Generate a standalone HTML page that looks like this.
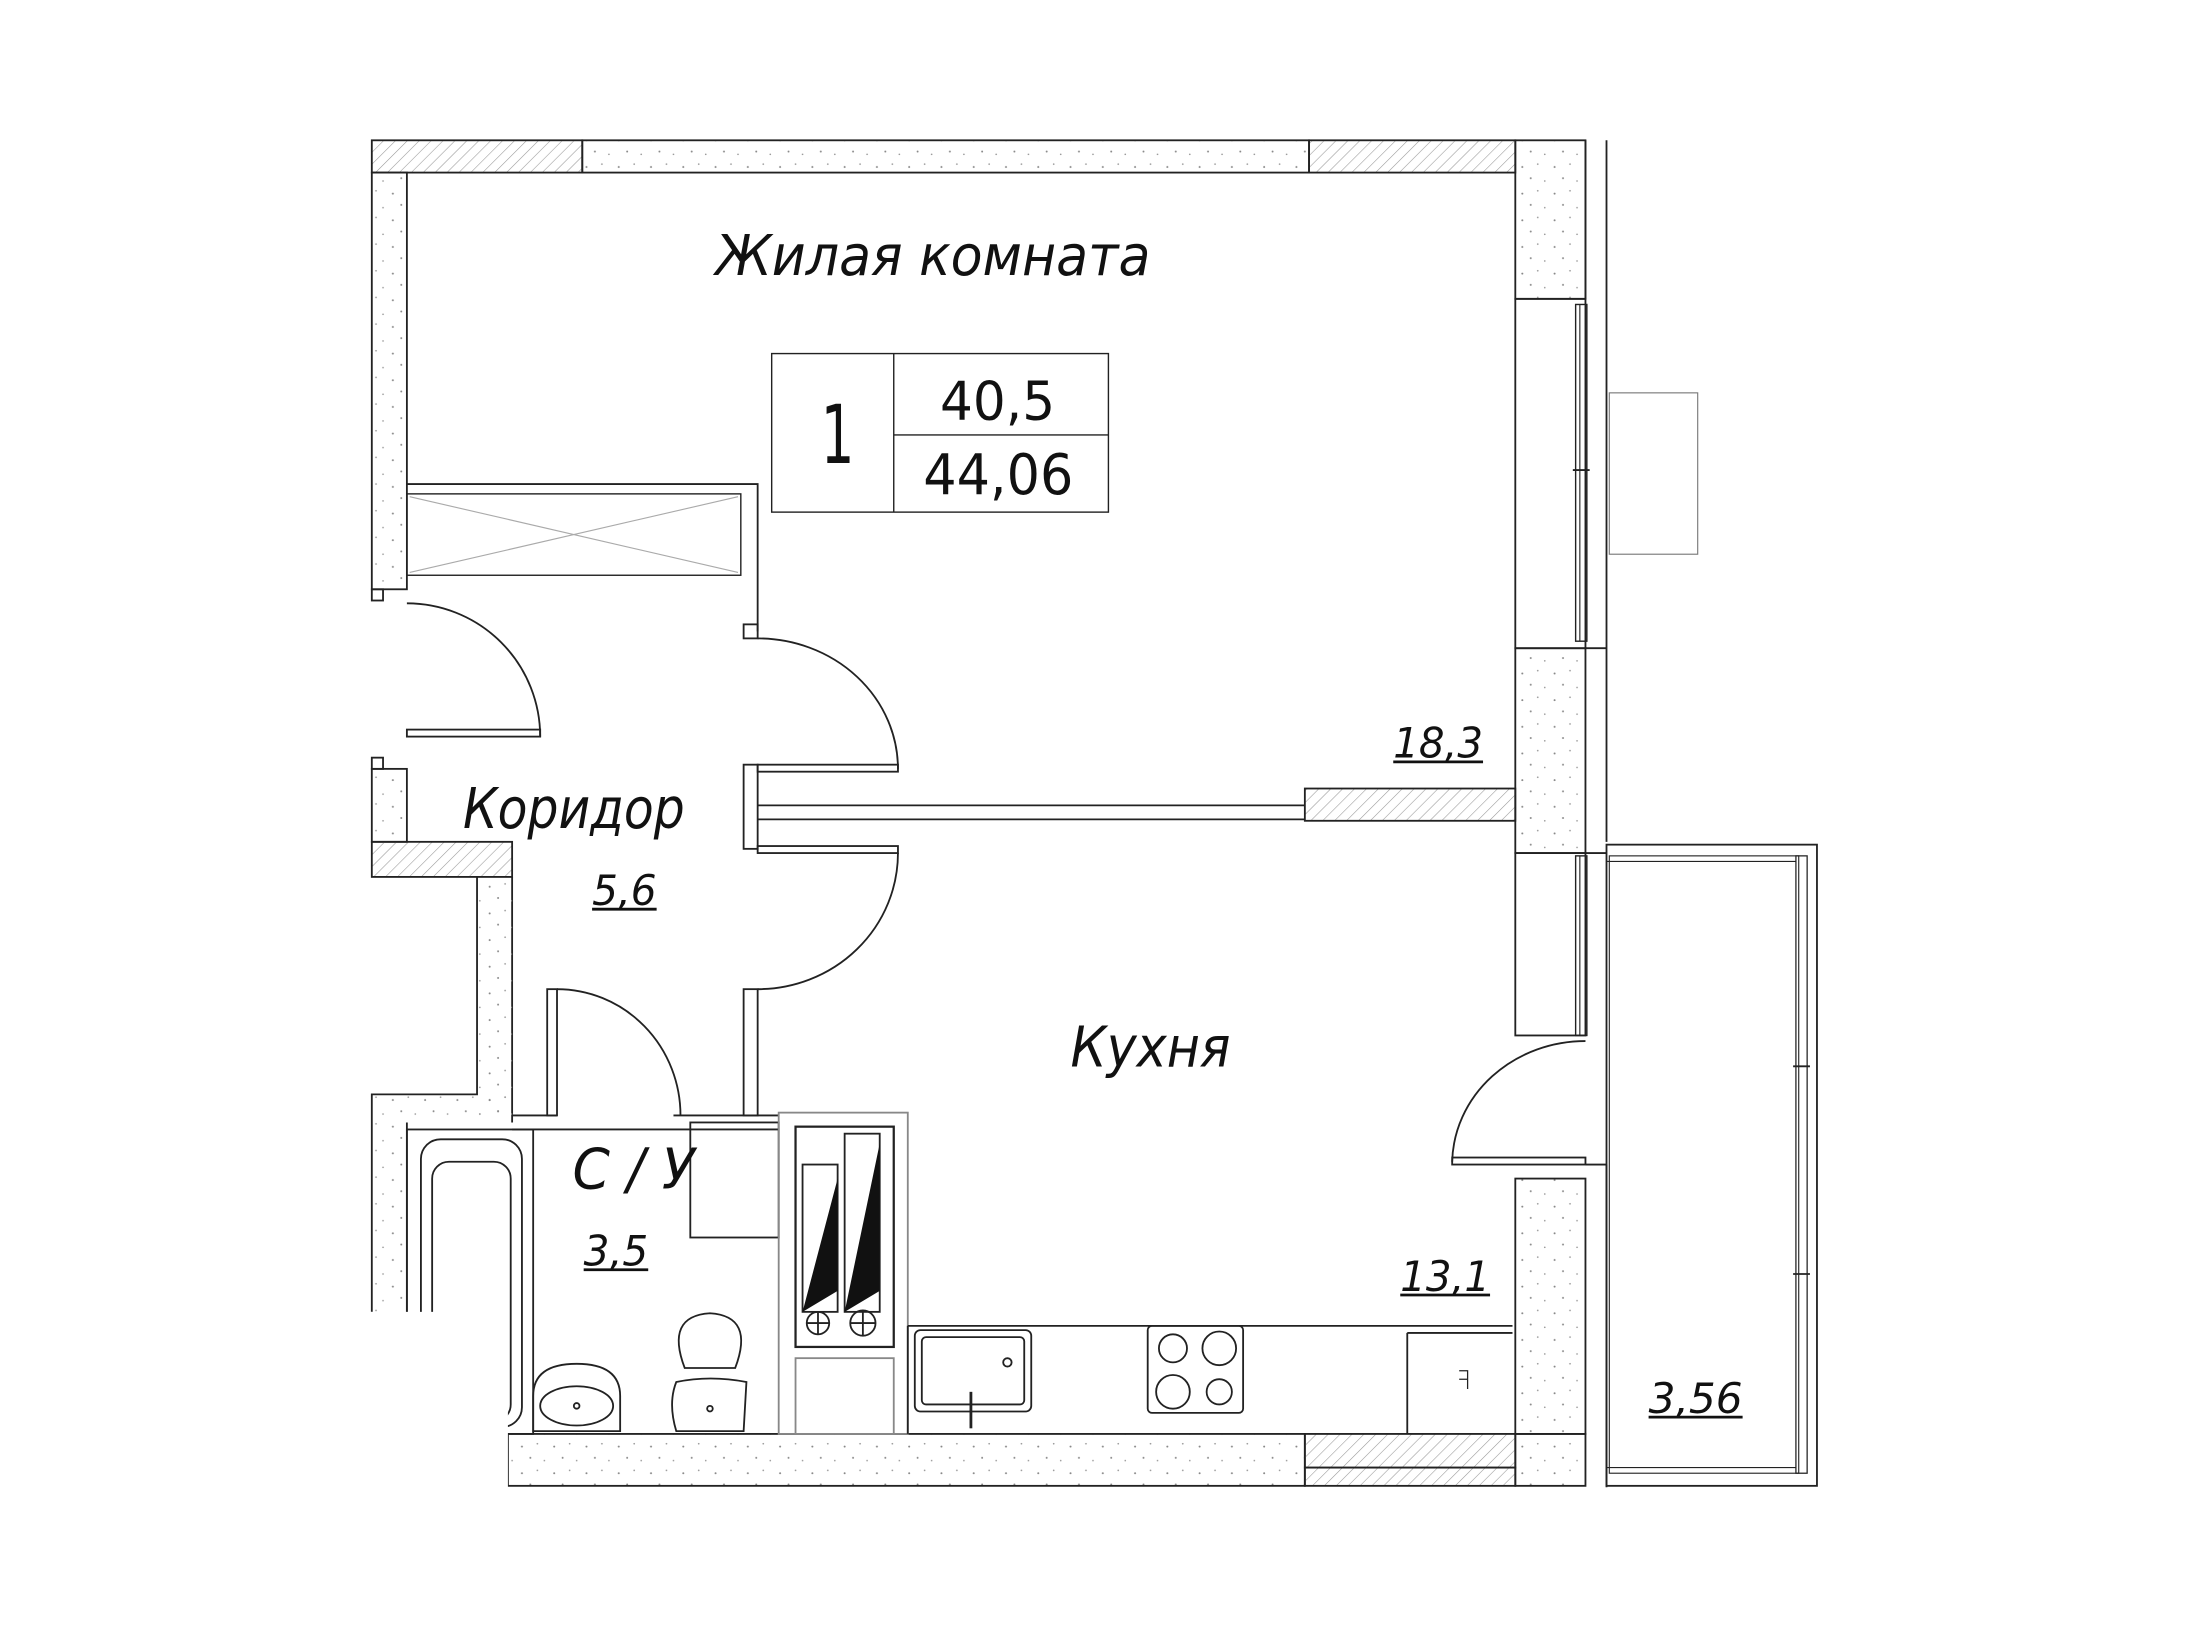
<!DOCTYPE html>
<html><head><meta charset="utf-8"><style>
html,body{margin:0;padding:0;background:#fff;}
svg{display:block}
text{font-family:"DejaVu Sans","Liberation Sans",sans-serif;font-style:italic;fill:#111}
</style></head><body>
<svg width="2200" height="1650" viewBox="0 0 1568 1176" preserveAspectRatio="none" xmlns="http://www.w3.org/2000/svg">
<defs>
<pattern id="h" width="6" height="6" patternUnits="userSpaceOnUse" patternTransform="rotate(45)">
<line x1="0" y1="0" x2="0" y2="6" stroke="#999" stroke-width="0.8"/></pattern>
<pattern id="s" width="23" height="19" patternUnits="userSpaceOnUse">
<circle cx="4" cy="5" r="0.7" fill="#888"/><circle cx="15" cy="3" r="0.6" fill="#999"/><circle cx="10" cy="13" r="0.7" fill="#888"/><circle cx="20" cy="15" r="0.6" fill="#999"/></pattern>
</defs>
<g stroke="#222" stroke-width="1.3" fill="none">
<rect x="265" y="100" width="150" height="23" fill="url(#h)"/>
<rect x="415" y="100" width="518" height="23" fill="url(#s)"/>
<rect x="933" y="100" width="147" height="23" fill="url(#h)"/>
<rect x="1080" y="100" width="50" height="113" fill="url(#s)"/>
<line x1="1145" y1="100" x2="1145" y2="600"/>
<line x1="1130" y1="100" x2="1130" y2="213"/>
<rect x="1080" y="213" width="50" height="249"/>
<rect x="1123" y="217" width="8" height="240" stroke-width="1"/>
<line x1="1126" y1="217" x2="1126" y2="457" stroke-width="0.8"/>
<line x1="1121" y1="335" x2="1133" y2="335"/>
<rect x="1147" y="280" width="63" height="115" stroke="#777" stroke-width="0.8"/>
<rect x="1080" y="462" width="50" height="146" fill="url(#s)"/>
<line x1="1130" y1="462" x2="1145" y2="462"/>
<rect x="1080" y="608" width="50" height="130"/>
<rect x="1123" y="610" width="8" height="128" stroke-width="1"/>
<line x1="1126" y1="610" x2="1126" y2="738" stroke-width="0.8"/>
<line x1="1130" y1="608" x2="1145" y2="608"/>
<rect x="1145" y="602" width="150" height="457"/>
<rect x="1147" y="610" width="135" height="440" stroke-width="0.8"/>
<rect x="1280" y="610" width="8" height="440" stroke-width="0.9"/>
<line x1="1145" y1="614" x2="1280" y2="614" stroke-width="0.8"/>
<line x1="1145" y1="1046" x2="1280" y2="1046" stroke-width="0.8"/>
<line x1="1278" y1="760" x2="1290" y2="760"/><line x1="1278" y1="908" x2="1290" y2="908"/>
<path d="M1130 742 A95 88 0 0 0 1035 828"/>
<rect x="1035" y="825" width="95" height="5"/>
<rect x="1080" y="840" width="50" height="182" fill="url(#s)"/>
<line x1="1130" y1="830" x2="1145" y2="830"/>
<line x1="1145" y1="830" x2="1145" y2="1060"/>
<rect x="1080" y="1022" width="50" height="37" fill="url(#s)"/>
<rect x="930" y="562" width="150" height="23" fill="url(#h)"/>
<line x1="540" y1="574" x2="930" y2="574"/>
<line x1="540" y1="584" x2="930" y2="584"/>
<rect x="362" y="1022" width="568" height="37" fill="url(#s)"/>
<rect x="930" y="1022" width="150" height="24" fill="url(#h)"/>
<rect x="930" y="1046" width="150" height="13" fill="url(#h)"/>
<rect x="265" y="123" width="25" height="297" fill="url(#s)"/>
<rect x="265" y="420" width="8" height="8"/>
<rect x="265" y="540" width="8" height="8"/>
<rect x="265" y="548" width="25" height="52" fill="url(#s)"/>
<rect x="265" y="600" width="100" height="25" fill="url(#h)"/>
<path d="M340 625 V780 H265 V935" />
<path d="M365 625 V800" />
<rect x="340" y="625" width="25" height="175" stroke="none" fill="url(#s)"/>
<rect x="265" y="780" width="100" height="20" stroke="none" fill="url(#s)"/>
<rect x="265" y="800" width="25" height="135" stroke="none" fill="url(#s)"/>
<line x1="290" y1="800" x2="290" y2="935"/>
<path d="M290 345 H540 V450"/>
<rect x="290" y="352" width="238" height="58" stroke-width="1"/>
<path d="M292 354 L526 408 M292 408 L526 354" stroke="#aaa" stroke-width="0.8"/>
<path d="M290 430 A95 95 0 0 1 385 525"/>
<rect x="290" y="520" width="95" height="5"/>
<rect x="530" y="445" width="10" height="10"/>
<path d="M540 455 A100 93 0 0 1 640 548"/>
<rect x="540" y="545" width="100" height="5"/>
<rect x="530" y="545" width="10" height="60"/>
<rect x="540" y="603" width="100" height="5"/>
<path d="M640 608 A100 97 0 0 1 540 705"/>
<rect x="530" y="705" width="10" height="90"/>
<rect x="390" y="705" width="7" height="90"/>
<path d="M397 705 A88 90 0 0 1 485 795"/>
<path d="M365 795 H397 M480 795 H555 M365 805 H555"/>
<rect x="290" y="805" width="90" height="217"/>
<rect x="300" y="812" width="72" height="205" rx="14"/>
<rect x="308" y="828" width="56" height="185" rx="12"/>
<path d="M380 1020 V995 Q380 972 411 972 Q442 972 442 995 V1020 Z"/>
<ellipse cx="411" cy="1002" rx="26" ry="14"/>
<circle cx="411" cy="1002" r="2"/>
<path d="M488 975 Q474 938 506 936 Q538 938 524 975 Z"/>
<path d="M482 985 Q506 980 532 985 L530 1020 H482 Q476 1000 482 985 Z"/>
<circle cx="506" cy="1004" r="2"/>
<rect x="492" y="800" width="63" height="82"/>
<rect x="555" y="793" width="92" height="229" stroke="#888"/>
<rect x="567" y="803" width="70" height="157" stroke-width="1.6"/>
<rect x="572" y="830" width="25" height="105"/>
<rect x="602" y="808" width="25" height="127"/>
<path d="M572 935 L597 920 L597 840 Z M602 935 L627 920 L627 815 Z" fill="#111" stroke="none"/>
<circle cx="583" cy="943" r="8"/><path d="M575 943 H591 M583 935 V951"/>
<circle cx="615" cy="943" r="9"/><path d="M606 943 H624 M615 934 V952"/>
<rect x="567" y="968" width="70" height="54" stroke="#888"/>
<path d="M647 945 H1078 M647 945 V1022"/>
<rect x="652" y="948" width="83" height="58" rx="4"/>
<rect x="657" y="953" width="73" height="48" rx="3"/>
<circle cx="718" cy="971" r="3"/>
<line x1="692" y1="992" x2="692" y2="1018" stroke-width="2"/>
<rect x="818" y="945" width="68" height="62" rx="3"/>
<circle cx="836" cy="961" r="10"/><circle cx="869" cy="961" r="12"/>
<circle cx="836" cy="992" r="12"/><circle cx="869" cy="992" r="9"/>
<path d="M1003 950 V1022"/>
<path d="M1003 950 H1078"/>
<path d="M1040 977 H1046 V990 M1040 983 H1046" stroke-width="0.9"/>
<rect x="550" y="252" width="240" height="113" stroke-width="1"/>
<line x1="637" y1="252" x2="637" y2="365" stroke-width="1"/>
<line x1="637" y1="310" x2="790" y2="310" stroke-width="1"/>
</g>
<rect x="0" y="935" width="362" height="240" fill="#fff"/>
<text x="510" y="196" font-size="40" textLength="310" lengthAdjust="spacingAndGlyphs">Жилая комната</text>
<text x="597" y="330" font-size="58" text-anchor="middle" style="font-style:normal" textLength="24" lengthAdjust="spacingAndGlyphs">1</text>
<text x="670" y="299" font-size="38" style="font-style:normal" textLength="82" lengthAdjust="spacingAndGlyphs">40,5</text>
<text x="658" y="352" font-size="40" style="font-style:normal" textLength="107" lengthAdjust="spacingAndGlyphs">44,06</text>
<text x="330" y="590" font-size="40" textLength="158" lengthAdjust="spacingAndGlyphs">Коридор</text>
<text x="763" y="760" font-size="40" textLength="114" lengthAdjust="spacingAndGlyphs">Кухня</text>
<text x="408" y="847" font-size="40" textLength="87" lengthAdjust="spacingAndGlyphs">С / У</text>
<g font-size="30">
<text x="993" y="540" textLength="64" lengthAdjust="spacingAndGlyphs">18,3</text>
<text x="422" y="645" textLength="46" lengthAdjust="spacingAndGlyphs">5,6</text>
<text x="416" y="902" textLength="46" lengthAdjust="spacingAndGlyphs">3,5</text>
<text x="998" y="920" textLength="64" lengthAdjust="spacingAndGlyphs">13,1</text>
<text x="1175" y="1007" textLength="67" lengthAdjust="spacingAndGlyphs">3,56</text>
</g>
<g stroke="#111" stroke-width="2">
<line x1="993" y1="543" x2="1057" y2="543"/>
<line x1="422" y1="648" x2="468" y2="648"/>
<line x1="416" y1="905" x2="462" y2="905"/>
<line x1="998" y1="923" x2="1062" y2="923"/>
<line x1="1175" y1="1010" x2="1242" y2="1010"/>
</g>
</svg>
</body></html>
